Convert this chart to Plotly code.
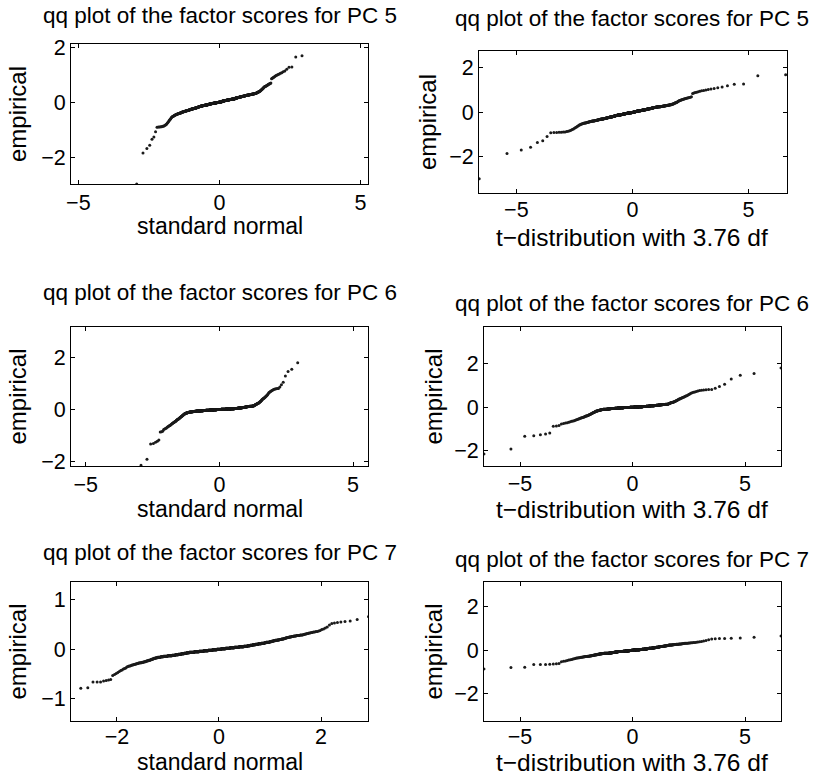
import math
from statistics import NormalDist
import numpy as np
import plotly.graph_objects as go

N_OBS = 590
DF_T = 3.76

pc5_scores = [
    -2.98, -1.85, -1.69, -1.57, -1.35, -1.27, -1.08, -0.91, -0.90, -0.90,
    -0.89, -0.89, -0.88, -0.88, -0.86, -0.84, -0.82, -0.80, -0.77, -0.74,
    -0.71, -0.68, -0.65, -0.62, -0.60, -0.57, -0.55, -0.53, -0.52, -0.51,
    -0.50, -0.49, -0.48, -0.48, -0.47, -0.46, -0.45, -0.45, -0.44, -0.43,
    -0.43, -0.42, -0.42, -0.41, -0.41, -0.40, -0.40, -0.39, -0.39, -0.39,
    -0.38, -0.38, -0.37, -0.37, -0.37, -0.36, -0.36, -0.36, -0.35, -0.35,
    -0.35, -0.34, -0.34, -0.34, -0.33, -0.33, -0.33, -0.32, -0.32, -0.32,
    -0.31, -0.31, -0.31, -0.31, -0.30, -0.30, -0.30, -0.30, -0.29, -0.29,
    -0.29, -0.29, -0.28, -0.28, -0.28, -0.28, -0.27, -0.27, -0.27, -0.27,
    -0.27, -0.26, -0.26, -0.26, -0.26, -0.25, -0.25, -0.25, -0.25, -0.25,
    -0.24, -0.24, -0.24, -0.24, -0.24, -0.23, -0.23, -0.23, -0.23, -0.23,
    -0.22, -0.22, -0.22, -0.22, -0.22, -0.21, -0.21, -0.21, -0.21, -0.21,
    -0.20, -0.20, -0.20, -0.20, -0.20, -0.19, -0.19, -0.19, -0.19, -0.19,
    -0.18, -0.18, -0.18, -0.18, -0.18, -0.17, -0.17, -0.17, -0.17, -0.17,
    -0.17, -0.16, -0.16, -0.16, -0.16, -0.16, -0.15, -0.15, -0.15, -0.15,
    -0.15, -0.15, -0.14, -0.14, -0.14, -0.14, -0.14, -0.14, -0.14, -0.13,
    -0.13, -0.13, -0.13, -0.13, -0.13, -0.13, -0.12, -0.12, -0.12, -0.12,
    -0.12, -0.12, -0.12, -0.12, -0.11, -0.11, -0.11, -0.11, -0.11, -0.11,
    -0.11, -0.11, -0.11, -0.11, -0.10, -0.10, -0.10, -0.10, -0.10, -0.10,
    -0.10, -0.10, -0.10, -0.09, -0.09, -0.09, -0.09, -0.09, -0.09, -0.09,
    -0.09, -0.09, -0.08, -0.08, -0.08, -0.08, -0.08, -0.08, -0.08, -0.08,
    -0.08, -0.07, -0.07, -0.07, -0.07, -0.07, -0.07, -0.07, -0.07, -0.07,
    -0.07, -0.06, -0.06, -0.06, -0.06, -0.06, -0.06, -0.06, -0.06, -0.06,
    -0.06, -0.05, -0.05, -0.05, -0.05, -0.05, -0.05, -0.05, -0.05, -0.05,
    -0.05, -0.04, -0.04, -0.04, -0.04, -0.04, -0.04, -0.04, -0.04, -0.04,
    -0.04, -0.04, -0.03, -0.03, -0.03, -0.03, -0.03, -0.03, -0.03, -0.03,
    -0.03, -0.03, -0.03, -0.02, -0.02, -0.02, -0.02, -0.02, -0.02, -0.02,
    -0.02, -0.02, -0.02, -0.02, -0.01, -0.01, -0.01, -0.01, -0.01, -0.01,
    -0.01, -0.01, -0.01, -0.01, -0.01, -0.01, 0.00, 0.00, 0.00, 0.00,
    0.00, 0.00, 0.00, 0.00, 0.00, 0.00, 0.00, 0.01, 0.01, 0.01,
    0.01, 0.01, 0.01, 0.01, 0.01, 0.01, 0.01, 0.02, 0.02, 0.02,
    0.02, 0.02, 0.02, 0.02, 0.02, 0.02, 0.03, 0.03, 0.03, 0.03,
    0.03, 0.03, 0.03, 0.03, 0.04, 0.04, 0.04, 0.04, 0.04, 0.04,
    0.04, 0.04, 0.05, 0.05, 0.05, 0.05, 0.05, 0.05, 0.05, 0.05,
    0.05, 0.06, 0.06, 0.06, 0.06, 0.06, 0.06, 0.06, 0.06, 0.06,
    0.07, 0.07, 0.07, 0.07, 0.07, 0.07, 0.07, 0.07, 0.07, 0.07,
    0.08, 0.08, 0.08, 0.08, 0.08, 0.08, 0.08, 0.08, 0.08, 0.08,
    0.09, 0.09, 0.09, 0.09, 0.09, 0.09, 0.09, 0.09, 0.09, 0.10,
    0.10, 0.10, 0.10, 0.10, 0.10, 0.10, 0.10, 0.10, 0.10, 0.11,
    0.11, 0.11, 0.11, 0.11, 0.11, 0.11, 0.11, 0.11, 0.11, 0.12,
    0.12, 0.12, 0.12, 0.12, 0.12, 0.12, 0.12, 0.12, 0.12, 0.12,
    0.12, 0.12, 0.12, 0.13, 0.13, 0.13, 0.13, 0.13, 0.13, 0.14,
    0.14, 0.14, 0.14, 0.14, 0.14, 0.15, 0.15, 0.15, 0.15, 0.15,
    0.15, 0.15, 0.16, 0.16, 0.16, 0.16, 0.16, 0.16, 0.17, 0.17,
    0.17, 0.17, 0.17, 0.17, 0.17, 0.18, 0.18, 0.18, 0.18, 0.18,
    0.18, 0.19, 0.19, 0.19, 0.19, 0.19, 0.19, 0.20, 0.20, 0.20,
    0.20, 0.20, 0.20, 0.21, 0.21, 0.21, 0.21, 0.21, 0.21, 0.22,
    0.22, 0.22, 0.22, 0.22, 0.22, 0.22, 0.23, 0.23, 0.23, 0.23,
    0.23, 0.23, 0.23, 0.24, 0.24, 0.24, 0.24, 0.24, 0.24, 0.24,
    0.25, 0.25, 0.25, 0.25, 0.25, 0.25, 0.25, 0.26, 0.26, 0.26,
    0.26, 0.26, 0.26, 0.27, 0.27, 0.27, 0.27, 0.27, 0.27, 0.28,
    0.28, 0.28, 0.28, 0.28, 0.29, 0.29, 0.29, 0.29, 0.29, 0.30,
    0.30, 0.30, 0.30, 0.30, 0.31, 0.31, 0.31, 0.31, 0.32, 0.32,
    0.32, 0.32, 0.33, 0.33, 0.33, 0.34, 0.34, 0.35, 0.35, 0.36,
    0.37, 0.37, 0.38, 0.38, 0.39, 0.40, 0.41, 0.42, 0.43, 0.44,
    0.45, 0.46, 0.48, 0.49, 0.51, 0.52, 0.54, 0.55, 0.56, 0.57,
    0.58, 0.59, 0.60, 0.61, 0.63, 0.64, 0.65, 0.66, 0.67, 0.68,
    0.70, 0.85, 0.87, 0.89, 0.91, 0.93, 0.95, 0.97, 0.99, 1.01,
    1.03, 1.05, 1.07, 1.11, 1.14, 1.20, 1.27, 1.28, 1.65, 1.69,
]

pc6_scores = [
    -2.15, -1.92, -1.33, -1.31, -1.26, -1.23, -1.18, -0.87, -0.86, -0.84,
    -0.77, -0.75, -0.73, -0.71, -0.69, -0.67, -0.65, -0.63, -0.62, -0.60,
    -0.58, -0.56, -0.54, -0.53, -0.51, -0.50, -0.49, -0.47, -0.46, -0.45,
    -0.44, -0.42, -0.41, -0.40, -0.39, -0.38, -0.37, -0.36, -0.35, -0.34,
    -0.32, -0.31, -0.30, -0.29, -0.28, -0.27, -0.26, -0.25, -0.24, -0.23,
    -0.22, -0.21, -0.20, -0.19, -0.19, -0.18, -0.17, -0.17, -0.16, -0.16,
    -0.15, -0.15, -0.15, -0.14, -0.14, -0.14, -0.13, -0.13, -0.13, -0.12,
    -0.12, -0.12, -0.12, -0.11, -0.11, -0.11, -0.11, -0.11, -0.10, -0.10,
    -0.10, -0.10, -0.10, -0.10, -0.10, -0.09, -0.09, -0.09, -0.09, -0.09,
    -0.09, -0.09, -0.09, -0.09, -0.09, -0.08, -0.08, -0.08, -0.08, -0.08,
    -0.08, -0.08, -0.08, -0.08, -0.08, -0.07, -0.07, -0.07, -0.07, -0.07,
    -0.07, -0.07, -0.07, -0.07, -0.07, -0.06, -0.06, -0.06, -0.06, -0.06,
    -0.06, -0.06, -0.06, -0.06, -0.06, -0.06, -0.06, -0.06, -0.06, -0.06,
    -0.06, -0.06, -0.06, -0.06, -0.06, -0.06, -0.06, -0.06, -0.06, -0.06,
    -0.05, -0.05, -0.05, -0.05, -0.05, -0.05, -0.05, -0.05, -0.05, -0.05,
    -0.05, -0.05, -0.05, -0.05, -0.05, -0.05, -0.05, -0.05, -0.05, -0.05,
    -0.04, -0.04, -0.04, -0.04, -0.04, -0.04, -0.04, -0.04, -0.04, -0.04,
    -0.04, -0.04, -0.04, -0.04, -0.04, -0.04, -0.04, -0.04, -0.04, -0.04,
    -0.03, -0.03, -0.03, -0.03, -0.03, -0.03, -0.03, -0.03, -0.03, -0.03,
    -0.03, -0.03, -0.03, -0.03, -0.03, -0.03, -0.03, -0.03, -0.03, -0.03,
    -0.03, -0.03, -0.03, -0.03, -0.03, -0.03, -0.03, -0.03, -0.03, -0.03,
    -0.02, -0.02, -0.02, -0.02, -0.02, -0.02, -0.02, -0.02, -0.02, -0.02,
    -0.02, -0.02, -0.02, -0.02, -0.02, -0.02, -0.02, -0.02, -0.02, -0.02,
    -0.02, -0.02, -0.02, -0.02, -0.02, -0.02, -0.02, -0.02, -0.02, -0.02,
    -0.01, -0.01, -0.01, -0.01, -0.01, -0.01, -0.01, -0.01, -0.01, -0.01,
    -0.01, -0.01, -0.01, -0.01, -0.01, -0.01, -0.01, -0.01, -0.01, -0.01,
    -0.01, -0.01, -0.01, -0.01, -0.01, -0.01, -0.01, -0.01, -0.01, -0.01,
    0.00, 0.00, 0.00, 0.00, 0.00, 0.00, 0.00, 0.00, 0.00, 0.00,
    0.00, 0.00, 0.00, 0.00, 0.00, 0.00, 0.00, 0.00, 0.00, 0.00,
    0.00, 0.00, 0.00, 0.00, 0.00, 0.00, 0.00, 0.00, 0.00, 0.00,
    0.00, 0.00, 0.00, 0.00, 0.00, 0.00, 0.00, 0.00, 0.00, 0.00,
    0.01, 0.01, 0.01, 0.01, 0.01, 0.01, 0.01, 0.01, 0.01, 0.01,
    0.01, 0.01, 0.01, 0.01, 0.01, 0.01, 0.01, 0.01, 0.01, 0.01,
    0.01, 0.01, 0.01, 0.01, 0.01, 0.01, 0.01, 0.01, 0.01, 0.01,
    0.01, 0.01, 0.01, 0.01, 0.01, 0.01, 0.01, 0.01, 0.01, 0.01,
    0.02, 0.02, 0.02, 0.02, 0.02, 0.02, 0.02, 0.02, 0.02, 0.02,
    0.02, 0.02, 0.02, 0.02, 0.02, 0.02, 0.02, 0.02, 0.02, 0.02,
    0.02, 0.02, 0.02, 0.02, 0.02, 0.02, 0.02, 0.02, 0.02, 0.02,
    0.02, 0.02, 0.02, 0.02, 0.02, 0.02, 0.02, 0.02, 0.02, 0.02,
    0.03, 0.03, 0.03, 0.03, 0.03, 0.03, 0.03, 0.03, 0.03, 0.03,
    0.03, 0.03, 0.03, 0.03, 0.03, 0.03, 0.03, 0.03, 0.03, 0.03,
    0.03, 0.03, 0.03, 0.03, 0.03, 0.03, 0.03, 0.03, 0.03, 0.03,
    0.04, 0.04, 0.04, 0.04, 0.04, 0.04, 0.04, 0.04, 0.04, 0.04,
    0.04, 0.04, 0.04, 0.04, 0.04, 0.04, 0.04, 0.04, 0.04, 0.04,
    0.05, 0.05, 0.05, 0.05, 0.05, 0.05, 0.05, 0.05, 0.05, 0.05,
    0.06, 0.06, 0.06, 0.06, 0.06, 0.06, 0.06, 0.06, 0.06, 0.06,
    0.06, 0.06, 0.06, 0.06, 0.06, 0.07, 0.07, 0.07, 0.07, 0.07,
    0.07, 0.07, 0.07, 0.07, 0.07, 0.08, 0.08, 0.08, 0.08, 0.08,
    0.08, 0.08, 0.08, 0.08, 0.08, 0.09, 0.09, 0.09, 0.09, 0.09,
    0.09, 0.09, 0.09, 0.09, 0.09, 0.10, 0.10, 0.10, 0.10, 0.10,
    0.10, 0.10, 0.10, 0.10, 0.10, 0.11, 0.11, 0.11, 0.11, 0.11,
    0.11, 0.11, 0.11, 0.11, 0.12, 0.12, 0.12, 0.12, 0.12, 0.12,
    0.12, 0.12, 0.12, 0.12, 0.12, 0.13, 0.13, 0.13, 0.13, 0.13,
    0.13, 0.14, 0.14, 0.15, 0.16, 0.16, 0.17, 0.18, 0.18, 0.19,
    0.20, 0.20, 0.21, 0.22, 0.22, 0.23, 0.24, 0.24, 0.25, 0.26,
    0.27, 0.28, 0.30, 0.31, 0.32, 0.34, 0.35, 0.37, 0.38, 0.40,
    0.41, 0.42, 0.44, 0.45, 0.47, 0.49, 0.51, 0.53, 0.55, 0.58,
    0.61, 0.64, 0.66, 0.68, 0.70, 0.72, 0.74, 0.76, 0.78, 0.79,
    0.80, 0.81, 0.81, 0.87, 0.95, 1.05, 1.29, 1.46, 1.55, 1.80,
]

pc7_scores = [
    -0.86, -0.79, -0.78, -0.66, -0.66, -0.66, -0.64, -0.63, -0.62, -0.61,
    -0.53, -0.51, -0.49, -0.47, -0.45, -0.43, -0.42, -0.40, -0.39, -0.38,
    -0.36, -0.35, -0.34, -0.34, -0.33, -0.32, -0.32, -0.31, -0.31, -0.30,
    -0.30, -0.29, -0.29, -0.28, -0.28, -0.27, -0.27, -0.27, -0.26, -0.26,
    -0.26, -0.25, -0.25, -0.25, -0.24, -0.24, -0.23, -0.23, -0.23, -0.22,
    -0.22, -0.22, -0.21, -0.21, -0.20, -0.20, -0.20, -0.19, -0.19, -0.18,
    -0.18, -0.18, -0.18, -0.17, -0.17, -0.17, -0.17, -0.16, -0.16, -0.16,
    -0.16, -0.16, -0.16, -0.16, -0.15, -0.15, -0.15, -0.15, -0.15, -0.15,
    -0.15, -0.14, -0.14, -0.14, -0.14, -0.14, -0.14, -0.14, -0.14, -0.14,
    -0.14, -0.14, -0.13, -0.13, -0.13, -0.13, -0.13, -0.13, -0.13, -0.13,
    -0.13, -0.13, -0.13, -0.13, -0.13, -0.12, -0.12, -0.12, -0.12, -0.12,
    -0.12, -0.12, -0.12, -0.12, -0.12, -0.11, -0.11, -0.11, -0.11, -0.11,
    -0.11, -0.11, -0.11, -0.11, -0.11, -0.10, -0.10, -0.10, -0.10, -0.10,
    -0.10, -0.10, -0.10, -0.10, -0.10, -0.09, -0.09, -0.09, -0.09, -0.09,
    -0.09, -0.09, -0.09, -0.09, -0.09, -0.08, -0.08, -0.08, -0.08, -0.08,
    -0.08, -0.08, -0.08, -0.08, -0.08, -0.07, -0.07, -0.07, -0.07, -0.07,
    -0.07, -0.07, -0.07, -0.07, -0.07, -0.06, -0.06, -0.06, -0.06, -0.06,
    -0.06, -0.06, -0.06, -0.06, -0.06, -0.06, -0.06, -0.06, -0.06, -0.06,
    -0.06, -0.06, -0.06, -0.06, -0.06, -0.05, -0.05, -0.05, -0.05, -0.05,
    -0.05, -0.05, -0.05, -0.05, -0.05, -0.05, -0.05, -0.05, -0.05, -0.05,
    -0.05, -0.05, -0.05, -0.05, -0.05, -0.04, -0.04, -0.04, -0.04, -0.04,
    -0.04, -0.04, -0.04, -0.04, -0.04, -0.04, -0.04, -0.04, -0.04, -0.04,
    -0.04, -0.04, -0.04, -0.04, -0.04, -0.03, -0.03, -0.03, -0.03, -0.03,
    -0.03, -0.03, -0.03, -0.03, -0.03, -0.03, -0.03, -0.03, -0.03, -0.03,
    -0.03, -0.03, -0.03, -0.03, -0.03, -0.02, -0.02, -0.02, -0.02, -0.02,
    -0.02, -0.02, -0.02, -0.02, -0.02, -0.02, -0.02, -0.02, -0.02, -0.02,
    -0.02, -0.02, -0.02, -0.02, -0.02, -0.01, -0.01, -0.01, -0.01, -0.01,
    -0.01, -0.01, -0.01, -0.01, -0.01, -0.01, -0.01, -0.01, -0.01, -0.01,
    -0.01, -0.01, -0.01, -0.01, -0.01, 0.00, 0.00, 0.00, 0.00, 0.00,
    0.00, 0.00, 0.00, 0.00, 0.00, 0.00, 0.00, 0.00, 0.00, 0.00,
    0.00, 0.00, 0.00, 0.00, 0.00, 0.01, 0.01, 0.01, 0.01, 0.01,
    0.01, 0.01, 0.01, 0.01, 0.01, 0.01, 0.01, 0.01, 0.01, 0.01,
    0.01, 0.01, 0.01, 0.01, 0.01, 0.02, 0.02, 0.02, 0.02, 0.02,
    0.02, 0.02, 0.02, 0.02, 0.02, 0.02, 0.02, 0.02, 0.02, 0.02,
    0.02, 0.02, 0.02, 0.02, 0.02, 0.03, 0.03, 0.03, 0.03, 0.03,
    0.03, 0.03, 0.03, 0.03, 0.03, 0.03, 0.03, 0.03, 0.03, 0.03,
    0.03, 0.03, 0.03, 0.03, 0.03, 0.04, 0.04, 0.04, 0.04, 0.04,
    0.04, 0.04, 0.04, 0.04, 0.04, 0.04, 0.04, 0.04, 0.04, 0.04,
    0.04, 0.04, 0.04, 0.04, 0.04, 0.05, 0.05, 0.05, 0.05, 0.05,
    0.05, 0.05, 0.05, 0.05, 0.05, 0.05, 0.05, 0.05, 0.05, 0.05,
    0.05, 0.05, 0.05, 0.05, 0.05, 0.06, 0.06, 0.06, 0.06, 0.06,
    0.06, 0.06, 0.06, 0.06, 0.06, 0.06, 0.06, 0.06, 0.06, 0.06,
    0.07, 0.07, 0.07, 0.07, 0.07, 0.07, 0.07, 0.07, 0.07, 0.07,
    0.08, 0.08, 0.08, 0.08, 0.08, 0.08, 0.08, 0.08, 0.08, 0.08,
    0.09, 0.09, 0.09, 0.09, 0.09, 0.09, 0.09, 0.09, 0.09, 0.09,
    0.10, 0.10, 0.10, 0.10, 0.10, 0.10, 0.10, 0.10, 0.10, 0.10,
    0.11, 0.11, 0.11, 0.11, 0.11, 0.11, 0.11, 0.11, 0.11, 0.11,
    0.12, 0.12, 0.12, 0.12, 0.12, 0.12, 0.12, 0.12, 0.12, 0.12,
    0.13, 0.13, 0.13, 0.13, 0.13, 0.14, 0.14, 0.14, 0.14, 0.14,
    0.14, 0.14, 0.14, 0.14, 0.14, 0.15, 0.15, 0.15, 0.15, 0.15,
    0.16, 0.16, 0.16, 0.16, 0.16, 0.17, 0.17, 0.17, 0.17, 0.17,
    0.18, 0.18, 0.18, 0.18, 0.18, 0.19, 0.19, 0.19, 0.19, 0.19,
    0.20, 0.20, 0.20, 0.20, 0.20, 0.21, 0.21, 0.21, 0.21, 0.21,
    0.22, 0.22, 0.22, 0.23, 0.23, 0.23, 0.24, 0.24, 0.24, 0.24,
    0.25, 0.25, 0.25, 0.25, 0.26, 0.26, 0.26, 0.26, 0.27, 0.27,
    0.27, 0.27, 0.28, 0.28, 0.28, 0.28, 0.28, 0.29, 0.29, 0.29,
    0.29, 0.30, 0.30, 0.31, 0.31, 0.32, 0.32, 0.33, 0.33, 0.34,
    0.34, 0.35, 0.35, 0.36, 0.36, 0.37, 0.38, 0.40, 0.41, 0.43,
    0.45, 0.49, 0.52, 0.53, 0.54, 0.55, 0.56, 0.57, 0.60, 0.66,
]

assert len(pc5_scores) == N_OBS, len(pc5_scores)
assert len(pc6_scores) == N_OBS, len(pc6_scores)
assert len(pc7_scores) == N_OBS, len(pc7_scores)

pc_labels = ["PC 5", "PC 6", "PC 7"]
pc_series = [pc5_scores, pc6_scores, pc7_scores]
x_label_normal = "standard normal"
x_label_t = "t\u2212distribution with 3.76 df"
y_label = "empirical"

# plotting positions i/(n+1)
probs = np.arange(1, N_OBS + 1) / (N_OBS + 1)
normal_q = np.array([NormalDist().inv_cdf(float(p)) for p in probs])


def t_quantiles(pvals, nu):
    step = 0.0005
    grid = np.arange(0, 400 + step, step)
    logc = math.lgamma((nu + 1) / 2) - math.lgamma(nu / 2) - 0.5 * math.log(nu * math.pi)
    pdf = math.exp(logc) * (1 + grid ** 2 / nu) ** (-(nu + 1) / 2)
    cdf = 0.5 + np.concatenate([[0.0], np.cumsum((pdf[1:] + pdf[:-1]) / 2 * step)])
    out = []
    for p in pvals:
        pu = p if p >= 0.5 else 1 - p
        k = min(np.searchsorted(cdf, pu), len(grid) - 1)
        tq = grid[k]
        out.append(tq if p >= 0.5 else -tq)
    return np.array(out)


t_q = t_quantiles(probs, DF_T)

W, H = 816, 776
FONT = "Liberation Sans, Arial, Helvetica, sans-serif"
FS_TICK = 21.5
FS_TITLE = 22.5
FS_XN = 23
FS_XT = 24.5
FS_Y = 24

# panel boxes in pixels: (x0, x1, y0, y1)
boxes = [
    (71, 368, 44, 184), (479, 787, 51, 193),
    (71, 368, 327, 466), (484, 781, 327, 466),
    (71, 368, 582, 721), (484, 781, 582, 721),
]
x_ranges = [[-5.26, 5.27], [-6.61, 6.66], [-5.55, 5.56], [-6.6, 6.6], [-2.9, 2.92], [-6.6, 6.6]]
y_ranges = [[-2.98, 2.12], [-3.62, 2.76], [-2.18, 3.18], [-2.7, 3.68], [-1.45, 1.36], [-3.26, 3.15]]
x_ticks = [[-5, 0, 5], [-5, 0, 5], [-5, 0, 5], [-5, 0, 5], [-2, 0, 2], [-5, 0, 5]]
y_ticks = [[-2, 0, 2], [-2, 0, 2], [-2, 0, 2], [-2, 0, 2], [-1, 0, 1], [-2, 0, 2]]
title_pos = [(219.5, 15), (631.5, 18), (219.5, 292.5), (631.5, 303.5), (219.5, 552), (632, 559.5)]
xlab_pos = [(219.5, 226), (632, 237.5), (219.5, 508.5), (632, 509.5), (219.5, 762), (632, 762.5)]
ylab_pos = [(17, 114), (427, 122), (17, 396.5), (433, 396.5), (17, 651.5), (433, 651.5)]
x_standoff = [-1, -3, -1, -2, -4, -4]

fig = go.Figure()
layout = dict(
    template="none",
    width=W, height=H, margin=dict(l=0, r=0, t=0, b=0, autoexpand=False),
    paper_bgcolor="white", plot_bgcolor="white", showlegend=False,
    font=dict(family=FONT, size=FS_TICK, color="black"),
)
annotations = []

for idx in range(6):
    row, col = divmod(idx, 2)
    ys = pc_series[row]
    xs = normal_q if col == 0 else t_q
    ax = "" if idx == 0 else str(idx + 1)
    fig.add_trace(go.Scatter(
        x=xs, y=ys, mode="markers", xaxis="x" + ax, yaxis="y" + ax,
        marker=dict(size=3, color="#1a1a1a", line=dict(width=0)),
        hoverinfo="skip",
    ))
    x0, x1, y0, y1 = boxes[idx]
    common = dict(showline=True, linecolor="black", linewidth=1, mirror="ticks",
                  ticks="inside", ticklen=4, tickcolor="black", tickwidth=1,
                  showgrid=False, zeroline=False, fixedrange=True, automargin=False,
                  tickfont=dict(family=FONT, size=FS_TICK, color="black"))
    layout["xaxis" + ax] = dict(common, domain=[x0 / W, x1 / W], range=x_ranges[idx],
                                tickvals=x_ticks[idx], anchor="y" + ax,
                                ticklabelstandoff=x_standoff[idx])
    layout["yaxis" + ax] = dict(common, domain=[1 - y1 / H, 1 - y0 / H], range=y_ranges[idx],
                                tickvals=y_ticks[idx], anchor="x" + ax, ticklabelstandoff=0)
    tx, ty = title_pos[idx]
    annotations.append(dict(text="qq plot of the factor scores for " + pc_labels[row],
                            x=tx / W, y=1 - ty / H, xref="paper", yref="paper",
                            showarrow=False, xanchor="center", yanchor="middle",
                            font=dict(family=FONT, size=FS_TITLE, color="black")))
    lx, ly = xlab_pos[idx]
    annotations.append(dict(text=x_label_normal if col == 0 else x_label_t,
                            x=lx / W, y=1 - ly / H, xref="paper", yref="paper",
                            showarrow=False, xanchor="center", yanchor="middle",
                            font=dict(family=FONT, size=FS_XN if col == 0 else FS_XT,
                                      color="black")))
    ex, ey = ylab_pos[idx]
    annotations.append(dict(text=y_label, textangle=-90,
                            x=ex / W, y=1 - ey / H, xref="paper", yref="paper",
                            showarrow=False, xanchor="center", yanchor="middle",
                            font=dict(family=FONT, size=FS_Y, color="black")))

layout["annotations"] = annotations
fig.update_layout(**layout)
fig.write_html("out.html")
